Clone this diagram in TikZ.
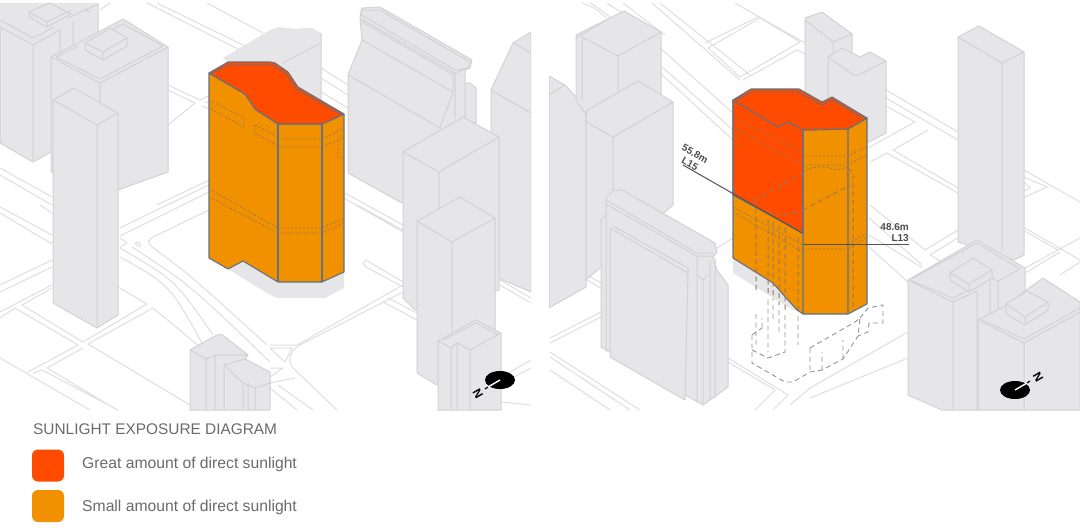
\documentclass[tikz,border=0pt]{standalone}
\usepackage{fontspec}
\setmainfont{Liberation Sans}
\usetikzlibrary{calc}
\definecolor{blockgray}{HTML}{E6E6E8}
\definecolor{edgegray}{HTML}{D2D2D4}
\definecolor{roadgray}{HTML}{DEDEDE}
\definecolor{sunred}{HTML}{FE4B00}
\definecolor{sunorange}{HTML}{F29100}
\definecolor{mainline}{HTML}{5F7286}
\definecolor{dotline}{HTML}{96795A}
\definecolor{legendtext}{HTML}{6A6A6C}
\tikzset{
    road/.style={draw=roadgray, line width=1pt, line join=round},
    block/.style={fill=blockgray, draw=edgegray, line width=1pt, line join=round},
    edge/.style={draw=edgegray, line width=1pt, line join=round},
    shell/.style={draw=mainline, line width=1.1pt, line join=round},
    dots/.style={draw=dotline, line width=.8pt, dash pattern=on 2pt off 2pt},
    ghost/.style={draw=black!42, line width=.9pt, dash pattern=on 5pt off 3.5pt},
    inghost/.style={draw=dotline, line width=1pt, dash pattern=on 5pt off 3.5pt},
    swatch/.style={minimum size=32pt, inner sep=0pt, rounded corners=6pt},
    legendlabel/.style={text=legendtext, font=\fontsize{15.7}{17}\selectfont, anchor=west, inner sep=0pt},
    levellabel/.style={text=black!70, font=\fontsize{10}{11}\selectfont\bfseries, inner sep=0pt},
    northmark/.style={font=\fontsize{12}{12}\selectfont\bfseries, inner sep=0pt}
}
\begin{document}
\begin{tikzpicture}[x=1pt, y=-1pt]
    \useasboundingbox (0,0) rectangle (1080,528);

    % left view
    \begin{scope}
        \clip (0,0) rectangle (531,410);
        \draw[road] (147,3) -- (240,50) (157,3) -- (247,47) (207,3) -- (263,33) (100,10) -- (110,3)
            (168,85) -- (200,100) -- (225,88) (168,90) -- (195,103) -- (168,125)
            (202,106) -- (209,109) (205,103) -- (209,101)
            (0,168) -- (52,197) (0,175) -- (52,205) (157,205) -- (209,180) (167,205) -- (209,185)
            (321,68) -- (348,85) (321,78) -- (348,95) (321,92) -- (348,108) (345,193) -- (403,225) (342,197) -- (403,232)
            (0,207) -- (52,235) (0,213) -- (52,244) (40,205) -- (52,213)
            (0,285) -- (52,260) (0,292) -- (52,267) (0,312) -- (52,285)
            (0,318) -- (15,308) -- (78,345) -- (28,372)
            (22,305) -- (52,288) (22,305) -- (83,342) -- (147,304) -- (118,287)
            (88,344) -- (153,308) (153,308) .. controls (170,322) .. (200,347)
            (83,348) -- (47,368) -- (117,410) (88,344) -- (190,405)
            (33,373) -- (42,370) -- (118,410) (0,358) -- (90,410)
            (120,228) -- (167,205) (120,236) -- (209,192)
            (120,238) -- (127,243) -- (120,247) (135,243) -- (140,242) -- (140,247) -- cycle
            (120,257) .. controls (170,285) .. (203,345)
            (120,248) .. controls (175,280) .. (213,335)
            (132,247) .. controls (190,285) .. (270,362)
            (209,210) -- (155,236) .. controls (147,240) and (147,243) .. (152,247) .. controls (190,275) .. (267,345)
            (357,205) -- (403,230) (367,205) -- (403,225)
            (403,282) -- (366,260) -- (363,263) -- (366,267) -- (403,287)
            (403,285) -- (297,345) -- (270,345) (403,292) -- (300,345) .. controls (288,352) and (288,362) .. (293,368) -- (337,410)
            (383,302) -- (417,320) (388,298) -- (417,313)
            (270,348) -- (292,348) -- (285,362) -- cycle (270,368) -- (283,368) -- (270,377)
            (270,383) -- (295,378) (278,385) -- (313,410) (270,388) -- (297,410)
            (500,280) -- (531,298) (500,285) -- (531,303)
            (510,372) -- (531,360) (514,377) -- (531,368) (501,402) -- (531,405);

        % towers on the far left
        \fill[blockgray] (0,3) -- (98,3) -- (98,50) -- (60,72) -- (0,72) -- cycle;
        \draw[edge] (68,18) -- (98,4) -- (98,50) (73,22) -- (73,48) (85,10) -- (90,12);
        \filldraw[block] (0,27) -- (33,45) -- (60,30) -- (60,147) -- (33,162) -- (0,143) -- cycle;
        \draw[edge] (33,45) -- (33,162) (0,20) -- (33,38) -- (54,27);
        \filldraw[block] (29,12) -- (50,3) -- (71,14) -- (47,27) -- (29,17) -- cycle;
        \draw[edge] (47,22) -- (71,10) (47,22) -- (29,12) (47,22) -- (47,27);

        \filldraw[block] (51,57) -- (78,43) -- (123,19) -- (168,47) -- (168,172) -- (118,190) -- (51,172) -- cycle;
        \draw[edge] (51,57) -- (100,83) -- (168,47) (100,83) -- (100,170) (56,57) -- (78,46) (56,57) -- (100,79) -- (163,46) -- (123,24) -- (113,29);
        \filldraw[block] (85,43) -- (110,28) -- (127,38) -- (127,46) -- (103,60) -- (85,50) -- cycle;
        \draw[edge] (85,43) -- (103,52) -- (127,38) (103,52) -- (103,60);

        \filldraw[block] (53,100) -- (74,88) -- (118,113) -- (118,315) -- (97,328) -- (53,303) -- cycle;
        \draw[edge] (53,100) -- (97,125) -- (118,113) (97,125) -- (97,328);

        % tower behind the massing
        \filldraw[fill=blockgray, draw=none] (223,58) -- (270,30) -- (278,27) -- (297,29) -- (303,28) -- (312,28) -- (321,33) -- (321,100) -- (300,90) -- (270,62) -- (228,62) -- cycle;
        \draw[edge] (321,33) -- (321,100) (321,43) -- (283,63);

        % gabled block
        \filldraw[block] (531,32) -- (513,43) -- (491,90) -- (491,275) -- (531,292) -- cycle;
        \draw[edge] (513,43) -- (531,53) (491,90) -- (531,113);
        \filldraw[block] (470,83) -- (476,88) -- (476,123) -- (460,120) -- (460,83) -- cycle;
        \filldraw[block] (362,8) -- (380,7) -- (472,60) -- (470,68) -- (465,70) -- (465,120) -- (440,140) -- (402,203) -- (348,173) -- (348,75) -- (362,40) -- (360,18) -- cycle;
        \draw[edge] (360,14) -- (362,10) -- (380,10) -- (470,62) -- (468,68) -- (455,70) -- (360,14)
            (361,19) -- (455,73) -- (468,68) (362,22) -- (454,75)
            (455,72) -- (455,118) (348,75) -- (440,128) -- (453,92) -- (362,40) (453,92) -- (453,75);

        \filldraw[block] (403,152) -- (463,117) -- (499,137) -- (499,290) -- (415,310) -- (403,298) -- cycle;
        \draw[edge] (403,152) -- (439,172) -- (499,137) (439,172) -- (439,225);

        \filldraw[block] (417,221) -- (460,197) -- (495,218) -- (495,360) -- (437,385) -- (417,373) -- cycle;
        \draw[edge] (417,221) -- (452,242) -- (495,218) (452,242) -- (452,345);

        \filldraw[block] (438,341) -- (476,320) -- (501,333) -- (501,410) -- (438,410) -- cycle;
        \draw[edge] (438,341) -- (451,348) -- (457,343) -- (470,350) -- (501,333) (443,340) -- (476,323) -- (497,334)
            (451,347) -- (451,410) (457,343) -- (457,410) (470,350) -- (470,410);

        % low block at the bottom
        \filldraw[block] (190,350) -- (215,336) .. controls (218,334) and (221,334) .. (224,336) -- (248,355) -- (245,359) -- (270,372) -- (270,410) -- (190,410) -- cycle;
        \draw[edge] (190,350) -- (206,359) -- (215,355) -- (248,355) (206,359) -- (206,410) (215,355) -- (215,410)
            (224,365) -- (245,359) (224,365) -- (243,383) -- (255,388) -- (270,383) (224,365) -- (224,410) (243,383) -- (243,410) (248,383) -- (248,410) (255,388) -- (255,410);

        % massing, left view
        \fill[blockgray] (228,269) -- (243,261) -- (278,282) -- (322,282) -- (344,272) -- (344,288) -- (325,298) -- (278,298) -- (270,295) -- cycle;
        \filldraw[fill=sunorange, shell] (209,73) -- (245,94) -- (255,109) -- (278,124) -- (322,124) -- (344,114) -- (344,272) -- (322,282) -- (278,282) -- (243,261) -- (228,269) -- (209,258) -- cycle;
        \filldraw[fill=sunred, shell] (209,73) -- (228,62) -- (270,62) -- (275,63) -- (288,72) -- (298,87) -- (344,114) -- (322,124) -- (278,124) -- (255,109) -- (245,94) -- cycle;
        \draw[shell, line width=.8pt] (212,73) -- (229,65) -- (272,65) -- (286,74) -- (296,89) -- (340,114);
        \draw[shell] (278,124) -- (278,282) (322,124) -- (322,282);
        \draw[dots] (209,100) -- (244,118) -- (244,127) -- (209,108)
            (255,125) -- (278,137) (255,125) -- (255,133) -- (278,146)
            (278,139) -- (322,139) -- (344,128) (278,147) -- (322,147) -- (344,137)
            (338,140) -- (338,157) -- (344,157)
            (209,189) -- (278,228) -- (322,228) -- (344,218) (209,197) -- (278,233) -- (322,233) -- (344,223);

        % north mark
        \fill[black] (500,380) ellipse (15 and 9);
        \draw[white, line width=1.4pt] (500,380) -- (488,387);
        \draw[black, line width=1.2pt] (488,387) -- (485,389);
        \node[northmark, rotate=120] (northleft) at (478,394) {N};
    \end{scope}

    % right view
    \begin{scope}
        \clip (549,0) rectangle (1080,410);
        \draw[road] (582,3) .. controls (595,8) .. (607,18) (590,3) .. controls (600,9) .. (610,17) (607,3) -- (625,15) (623,3) -- (665,35)
            (652,3) -- (740,80) (660,3) -- (750,75)
            (660,48) -- (733,113) (660,65) -- (733,130) (660,73) -- (733,140)
            (735,3) -- (805,43) (705,43) -- (758,17) (708,48) -- (760,18) -- (800,42)
            (708,48) -- (740,77) -- (800,42) (743,80) -- (797,50) -- (807,55)
            (886,90) -- (958,132) (886,98) -- (958,140) (886,106) -- (915,122) -- (868,148)
            (928,130) -- (893,150) -- (958,188) (887,153) -- (870,162) (887,153) -- (958,193)
            (1024,170) -- (1080,202) (1024,177) -- (1047,187) -- (1023,198) (1024,182) -- (1030,188) -- (1023,192)
            (870,205) -- (925,250) -- (958,230) (869,218) -- (922,265) (869,235) -- (923,268) (869,247) -- (908,282)
            (930,255) -- (958,238) (930,255) -- (940,261)
            (1023,230) -- (1058,250) -- (1025,268) (1025,228) -- (1080,260) (1025,273) -- (1060,252)
            (1058,250) -- (1080,238) (1060,275) -- (1080,262)
            (810,388) -- (908,332) (810,398) -- (908,358)
            (717,248) -- (733,238) (550,338) -- (601,312) (550,343) -- (601,317)
            (587,275) -- (601,283) (587,280) -- (601,288)
            (550,352) -- (640,410) (550,357) -- (630,410) (550,370) -- (610,410)
            (728,358) -- (788,395) -- (773,410) (728,362) -- (775,390) -- (755,410) (790,405) -- (810,388);

        \filldraw[block] (549,76) -- (565,85) -- (586,108) -- (586,287) -- (549,308) -- cycle;
        \draw[edge] (549,95) -- (565,85);

        \filldraw[block] (576,35) -- (624,11) -- (661,32) -- (661,100) -- (590,120) -- (576,100) -- cycle;
        \draw[edge] (582,37) -- (618,56) -- (661,32) (618,56) -- (618,95) (582,37) -- (582,100) (576,38) -- (610,18);

        \filldraw[block] (586,111) -- (638,81) -- (673,102) -- (673,205) -- (586,280) -- cycle;
        \draw[edge] (586,122) -- (613,137) -- (673,102) (613,137) -- (613,200) (586,111) -- (586,122);

        % cornice block
        \filldraw[block] (601,220) -- (606,215) -- (606,198) -- (614,190) -- (622,190) -- (715,243) -- (717,252) -- (713,257) -- (717,270) -- (728,285) -- (728,387) -- (703,405) -- (601,347) -- cycle;
        \draw[edge] (606,200) -- (697,253) -- (713,253) (606,204) -- (697,256) -- (713,256)
            (606,215) -- (606,352) (697,256) -- (697,402) (703,280) -- (703,405) (710,260) -- (710,400) (715,258) -- (715,398)
            (697,275) -- (703,280) -- (708,275);
        \filldraw[block] (610,228) -- (688,273) -- (685,400) -- (610,357) -- cycle;
        \draw[edge] (613,226) -- (688,268) -- (688,273);

        \filldraw[block] (805,18) -- (822,12) -- (852,34) -- (852,110) -- (805,100) -- cycle;
        \draw[edge] (805,20) -- (833,42) -- (852,34) (833,42) -- (833,60);
        \filldraw[block] (828,57) -- (842,48) -- (860,57) -- (870,52) -- (886,61) -- (886,133) -- (867,143) -- (828,120) -- cycle;
        \draw[edge] (828,57) -- (852,74) .. controls (855,76) and (858,76) .. (861,74) -- (886,61);

        % tall tower
        \filldraw[block] (958,37) -- (979,26) -- (1024,52) -- (1024,255) -- (1014,260) -- (958,242) -- cycle;
        \draw[edge] (958,37) -- (1002,63) -- (1024,52) (1002,63) -- (1002,250);

        % towers on the right
        \filldraw[block] (908,280) -- (977,240) -- (1025,268) -- (1025,320) -- (978,410) -- (942,410) -- (908,395) -- cycle;
        \draw[edge] (911,279) -- (977,243) -- (1020,269) -- (998,281) -- (990,277) -- (990,320) (998,281) -- (998,320)
            (908,280) -- (953,302) -- (977,291) (912,281) -- (953,298) -- (973,288)
            (953,302) -- (953,410) (977,291) -- (977,410);
        \filldraw[block] (950,273) -- (973,258) -- (992,270) -- (992,278) -- (969,292) -- (950,280) -- cycle;
        \draw[edge] (950,273) -- (969,284) -- (992,270) (969,284) -- (969,292);

        \filldraw[block] (978,320) -- (1003,307) -- (1043,278) -- (1080,302) -- (1080,410) -- (978,410) -- cycle;
        \draw[edge] (978,320) -- (1024,343) -- (1080,312) (982,320) -- (1024,339) -- (1080,308) (1024,343) -- (1024,410);
        \filldraw[block] (1006,304) -- (1027,291) -- (1048,302) -- (1048,310) -- (1025,325) -- (1006,314) -- cycle;
        \draw[edge] (1006,304) -- (1025,317) -- (1048,302) (1025,317) -- (1025,325);

        % ghost footprint
        \draw[ghost] (752,335) -- (752,363) -- (785,382) -- (793,382) -- (810,372) -- (822,370) -- (843,359) -- (858,336)
            (752,335) -- (762,328) (752,350) -- (768,358) -- (785,352) (762,328) -- (762,318)
            (810,348) -- (855,322) -- (860,318) -- (858,336) (860,318) -- (868,308) -- (883,305) -- (883,323) -- (869,323) -- (868,332) -- (858,336)
            (822,370) -- (822,352) (843,359) -- (843,340) (810,348) -- (810,372)
            (756,314) -- (756,348) (768,300) -- (768,352) (773,305) -- (773,320) (779,310) -- (779,335) (785,315) -- (785,352) (798,316) -- (798,345);

        % massing, right view
        \fill[blockgray] (733,258) -- (775,283) -- (797,311) -- (790,308) -- (770,296) -- (733,273) -- cycle;
        \filldraw[fill=sunorange, shell] (733,100) -- (803,130) -- (848,129) -- (867,118) -- (867,304) -- (848,314) -- (803,314) -- (797,310) -- (773,283) -- (733,258) -- cycle;
        \filldraw[fill=sunred, shell] (733,100) -- (751,89) -- (799,89) -- (822,102) -- (832,97) -- (867,118) -- (848,129) -- (803,130) -- (803,233) -- (733,195) -- cycle;
        \draw[shell, line width=.8pt] (736,100) -- (752,92) -- (798,92) -- (822,105) -- (832,100) -- (863,118);
        \draw[shell] (733,100) -- (778,127) -- (788,122) -- (803,130) (803,130) -- (803,314) (848,129) -- (848,314);
        \draw[dots] (733,117) -- (803,153) (733,127) -- (803,165) (739,127) -- (739,145) -- (733,145)
            (803,156) -- (848,156) -- (867,146) (803,165) -- (848,165) -- (867,155)
            (803,172) .. controls (815,165) and (825,166) .. (833,169) .. controls (838,170) .. (848,167)
            (733,207) -- (803,245) (733,212) -- (803,252)
            (803,249) -- (848,249) -- (867,237) (848,244) -- (867,233);
        \draw[inghost] (755,200) -- (803,173) (803,210) -- (850,185) (848,168) -- (853,173) -- (853,310)
            (755,200) -- (756,213) -- (756,290) (767,212) -- (783,215) -- (800,212)
            (768,220) -- (768,295) (773,222) -- (773,300) (779,225) -- (779,305) (785,228) -- (785,310) (798,238) -- (798,310)
            (733,188) -- (738,194);

        % levels
        \coordinate (levelA) at (683,165);
        \coordinate (levelAend) at (802,233);
        \coordinate (levelB) at (909,244);
        \coordinate (levelBend) at (803,244);
        \draw[black!68, line width=1pt] (levelA) -- (levelAend);
        \draw[black!68, line width=1pt] (levelB) -- (levelBend);
        \node[levellabel, rotate=-30] (heightA) at (695,154) {55.8m};
        \node[levellabel, rotate=-30] (floorA) at (690,164) {L15};
        \node[levellabel, anchor=east] (heightB) at (909,227) {48.6m};
        \node[levellabel, anchor=east] (floorB) at (909,238) {L13};

        % north mark
        \fill[black] (1015,390) ellipse (15 and 9);
        \draw[white, line width=1.4pt] (1015,390) -- (1027,383);
        \draw[black, line width=1.2pt] (1027,383) -- (1030,381);
        \node[northmark, rotate=-60] (northright) at (1038,377) {N};
    \end{scope}

    % legend
    \node[legendlabel, font=\fontsize{15.4}{17}\selectfont, anchor=base west] (title) at (33,434) {SUNLIGHT EXPOSURE DIAGRAM};
    \node[swatch, fill=sunred] (swatchgreat) at (48,465.5) {};
    \node[swatch, fill=sunorange] (swatchsmall) at (48,506) {};
    \node[legendlabel] (labelgreat) at (82,464.5) {Great amount of direct sunlight};
    \node[legendlabel] (labelsmall) at (82,507.5) {Small amount of direct sunlight};
\end{tikzpicture}
\end{document}
